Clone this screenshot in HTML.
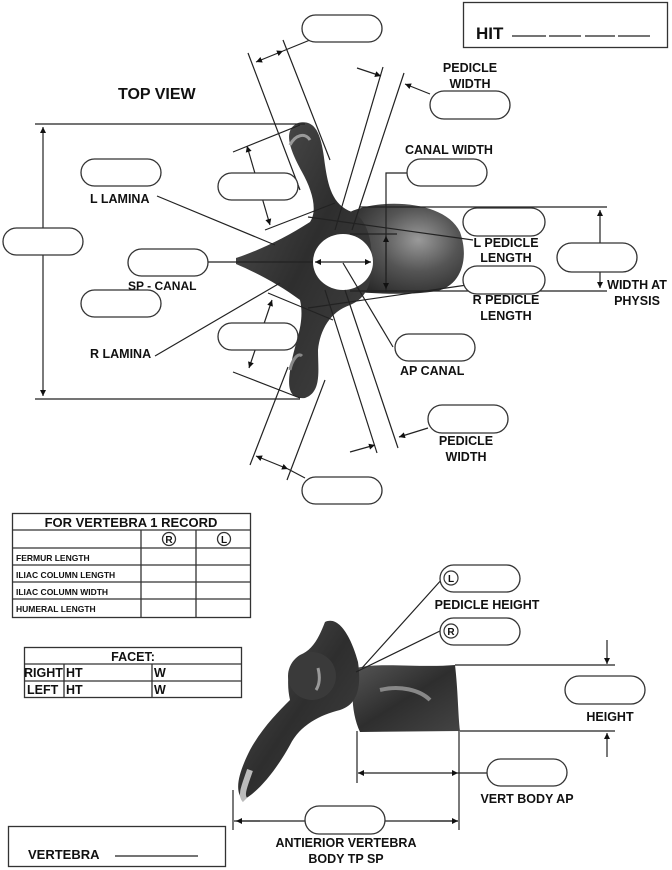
<!DOCTYPE html>
<html><head><meta charset="utf-8"><style>
html,body{margin:0;padding:0;background:#fff;}
svg{display:block;}
text{font-family:"Liberation Sans",Arial,sans-serif;font-weight:bold;fill:#111;}
.l{stroke:#222;stroke-width:1.2;fill:none;}
.p{fill:#fff;stroke:#333;stroke-width:1.3;}
.c{text-anchor:middle;}
</style></head><body>
<svg width="672" height="870" viewBox="0 0 672 870" xmlns="http://www.w3.org/2000/svg">
<defs>
<marker id="a" viewBox="0 0 10 10" refX="10" refY="5" markerWidth="7" markerHeight="5" orient="auto-start-reverse"><path d="M0,0L10,5L0,10z" fill="#111"/></marker>
<radialGradient id="g" cx="0.6" cy="0.4" r="0.7"><stop offset="0" stop-color="#9a9a9a"/><stop offset="0.5" stop-color="#555"/><stop offset="1" stop-color="#2a2a2a"/></radialGradient>
<linearGradient id="g2" x1="0" y1="0" x2="1" y2="1"><stop offset="0" stop-color="#555"/><stop offset="0.5" stop-color="#2e2e2e"/><stop offset="1" stop-color="#444"/></linearGradient>
</defs>

<!-- HIT box -->
<rect x="463.5" y="2.5" width="204" height="45" fill="#fff" stroke="#333" stroke-width="1.3"/>
<text x="476" y="39" font-size="17">HIT</text>
<path class="l" d="M512,36h34M549,36h32M585,36h30M618,36h32" stroke-width="1.5"/>

<text x="118" y="99" font-size="16">TOP VIEW</text>

<!-- Top view vertebra -->
<g>
<path d="M350,212 C380,198 445,200 460,232 C470,260 460,286 437,291 C405,296 375,293 352,292 Z" fill="url(#g)"/>
<path d="M236,258 C260,250 285,238 310,222 C318,210 312,190 302,172 C290,150 282,130 298,123 C318,118 322,140 325,165 C328,185 332,205 352,212 C365,218 372,235 372,262 C372,290 362,300 350,305 C330,312 320,330 318,350 C318,370 322,392 305,398 C285,400 288,380 292,360 C296,340 305,322 300,300 C280,285 255,272 236,264 Z" fill="url(#g2)"/>
<ellipse cx="343" cy="262" rx="30" ry="28" fill="#fff"/>
<path d="M290,145 C295,135 305,132 310,140" stroke="#999" stroke-width="3" fill="none"/>
<path d="M290,370 C292,360 298,352 302,356" stroke="#888" stroke-width="3" fill="none"/>
</g>

<!-- Top view lines -->
<path class="l" d="M35,124H305M35,399H300"/>
<path class="l" d="M43,127V396" marker-start="url(#a)" marker-end="url(#a)"/>
<path class="l" d="M248,53L300,190M283,40L330,160"/>
<path class="l" d="M256,62L283,51" marker-start="url(#a)" marker-end="url(#a)"/>
<path class="l" d="M283,51L310,40"/>
<path class="l" d="M383,67L335,230M404,73L352,230"/>
<path class="l" d="M357,68L381,76" marker-end="url(#a)"/>
<path class="l" d="M430,94L405,84" marker-end="url(#a)"/>
<path class="l" d="M233,152L300,125M265,230L335,203"/>
<path class="l" d="M247,146L270,225" marker-start="url(#a)" marker-end="url(#a)"/>
<path class="l" d="M268,293L333,320M233,372L300,398"/>
<path class="l" d="M272,300L249,368" marker-start="url(#a)" marker-end="url(#a)"/>
<path class="l" d="M325,290L377,453M345,290L398,448"/>
<path class="l" d="M288,367L250,465M325,380L287,480"/>
<path class="l" d="M256,456L288,469" marker-start="url(#a)" marker-end="url(#a)"/>
<path class="l" d="M288,469L305,478"/>
<path class="l" d="M350,452L375,445" marker-end="url(#a)"/>
<path class="l" d="M428,428L399,437" marker-end="url(#a)"/>
<path class="l" d="M360,207H607M360,291H607"/>
<path class="l" d="M600,210V288" marker-start="url(#a)" marker-end="url(#a)"/>
<path class="l" d="M407,173H386V292"/>
<path class="l" d="M386,236V289" marker-start="url(#a)" marker-end="url(#a)"/>
<path class="l" d="M350,234H397M350,291H397"/>
<path class="l" d="M308,217L473,240M308,308L467,285"/>
<path class="l" d="M157,196L275,245M155,356L280,283"/>
<path class="l" d="M208,262H313"/>
<path class="l" d="M315,262H371" marker-start="url(#a)" marker-end="url(#a)"/>
<path class="l" d="M393,347L343,263"/>

<!-- pills top view -->
<rect class="p" x="302" y="15" width="80" height="27" rx="13.5"/>
<rect class="p" x="430" y="91" width="80" height="28" rx="14"/>
<rect class="p" x="407" y="159" width="80" height="27" rx="13.5"/>
<rect class="p" x="81" y="159" width="80" height="27" rx="13.5"/>
<rect class="p" x="218" y="173" width="80" height="27" rx="13.5"/>
<rect class="p" x="3" y="228" width="80" height="27" rx="13.5"/>
<rect class="p" x="463" y="208" width="82" height="28" rx="14"/>
<rect class="p" x="557" y="243" width="80" height="29" rx="14.5"/>
<rect class="p" x="128" y="249" width="80" height="27" rx="13.5"/>
<rect class="p" x="463" y="266" width="82" height="28" rx="14"/>
<rect class="p" x="81" y="290" width="80" height="27" rx="13.5"/>
<rect class="p" x="218" y="323" width="80" height="27" rx="13.5"/>
<rect class="p" x="395" y="334" width="80" height="27" rx="13.5"/>
<rect class="p" x="428" y="405" width="80" height="28" rx="14"/>
<rect class="p" x="302" y="477" width="80" height="27" rx="13.5"/>

<!-- labels top -->
<g font-size="12.5">
<text class="c" x="470" y="72">PEDICLE</text>
<text class="c" x="470" y="88">WIDTH</text>
<text x="405" y="154">CANAL WIDTH</text>
<text x="90" y="203">L LAMINA</text>
<text class="c" x="506" y="247">L PEDICLE</text>
<text class="c" x="506" y="262">LENGTH</text>
<text x="128" y="290" font-size="12">SP - CANAL</text>
<text class="c" x="506" y="304">R PEDICLE</text>
<text class="c" x="506" y="320">LENGTH</text>
<text class="c" x="637" y="289">WIDTH AT</text>
<text class="c" x="637" y="305">PHYSIS</text>
<text x="90" y="358">R LAMINA</text>
<text x="400" y="375">AP CANAL</text>
<text class="c" x="466" y="445">PEDICLE</text>
<text class="c" x="466" y="461">WIDTH</text>
</g>

<!-- Record table -->
<g stroke="#333" stroke-width="1.3" fill="none">
<rect x="12.5" y="513.5" width="238" height="104"/>
<path d="M12,530H250M12,548H250M12,565H250M12,582H250M12,599H250M141,530V617M196,530V617"/>
<rect x="24.5" y="647.5" width="217" height="50"/>
<path d="M24,664H241M24,681H241M64,664V697M152,664V697"/>
<circle cx="169" cy="539" r="6.5"/><circle cx="224" cy="539" r="6.5"/>
</g>
<text class="c" x="131" y="527" font-size="13">FOR VERTEBRA 1 RECORD</text>
<text class="c" x="169" y="543" font-size="10">R</text>
<text class="c" x="224" y="543" font-size="10">L</text>
<g font-size="8.5">
<text x="16" y="561">FERMUR LENGTH</text>
<text x="16" y="578">ILIAC COLUMN LENGTH</text>
<text x="16" y="595">ILIAC COLUMN WIDTH</text>
<text x="16" y="612">HUMERAL LENGTH</text>
</g>
<text class="c" x="133" y="661" font-size="12.5">FACET:</text>
<g font-size="12.5">
<text x="24" y="677">RIGHT</text><text x="66" y="677">HT</text><text x="154" y="677">W</text>
<text x="27" y="694">LEFT</text><text x="66" y="694">HT</text><text x="154" y="694">W</text>
</g>

<!-- Lateral vertebra -->
<g>
<path d="M356,668 C380,662 420,668 455,665 C458,690 458,715 460,731 L360,732 C352,715 350,690 356,668 Z" fill="url(#g2)"/>
<path d="M325,622 C340,615 352,640 358,662 C362,690 356,705 340,710 C320,715 300,725 290,745 C275,772 258,792 243,800 C233,790 240,770 250,750 C262,728 278,712 290,700 C286,682 288,662 300,655 C312,650 318,640 325,622 Z" fill="url(#g2)"/>
<ellipse cx="312" cy="676" rx="24" ry="24" fill="#3a3a3a"/>
<path d="M250,770 C245,785 240,795 245,800" stroke="#bbb" stroke-width="6" fill="none"/>
<path d="M380,690 C400,685 420,690 430,700" stroke="#888" stroke-width="4" fill="none"/>
<path d="M318,668 C320,676 320,684 316,690" stroke="#999" stroke-width="3" fill="none"/>
</g>
<path class="l" d="M455,665H615M460,731H615"/>
<path class="l" d="M607,640V664" marker-end="url(#a)"/>
<path class="l" d="M607,757V733" marker-end="url(#a)"/>
<path class="l" d="M357,731V783M459,731V830M233,790V830"/>
<path class="l" d="M358,773H458" marker-start="url(#a)" marker-end="url(#a)"/>
<path class="l" d="M458,773H487"/>
<path class="l" d="M234,821H305M385,821H458" />
<path class="l" d="M236,821H260" marker-start="url(#a)"/>
<path class="l" d="M430,821H458" marker-end="url(#a)"/>
<path class="l" d="M443,578L362,668M442,630L356,672"/>

<rect class="p" x="440" y="565" width="80" height="27" rx="13.5"/>
<rect class="p" x="440" y="618" width="80" height="27" rx="13.5"/>
<circle cx="451" cy="578" r="7" fill="#fff" stroke="#333" stroke-width="1.2"/>
<circle cx="451" cy="631" r="7" fill="#fff" stroke="#333" stroke-width="1.2"/>
<text class="c" x="451" y="582" font-size="10">L</text>
<text class="c" x="451" y="635" font-size="10">R</text>
<rect class="p" x="565" y="676" width="80" height="28" rx="14"/>
<rect class="p" x="487" y="759" width="80" height="27" rx="13.5"/>
<rect class="p" x="305" y="806" width="80" height="28" rx="14"/>

<g font-size="12.5">
<text class="c" x="487" y="609">PEDICLE HEIGHT</text>
<text class="c" x="610" y="721">HEIGHT</text>
<text class="c" x="527" y="803">VERT BODY AP</text>
<text class="c" x="346" y="847">ANTIERIOR VERTEBRA</text>
<text class="c" x="346" y="863">BODY TP SP</text>
</g>

<rect x="8.5" y="826.5" width="217" height="40" fill="none" stroke="#333" stroke-width="1.3"/>
<text x="28" y="859" font-size="13">VERTEBRA</text>
<path class="l" d="M115,856H198"/>
</svg>
</body></html>
